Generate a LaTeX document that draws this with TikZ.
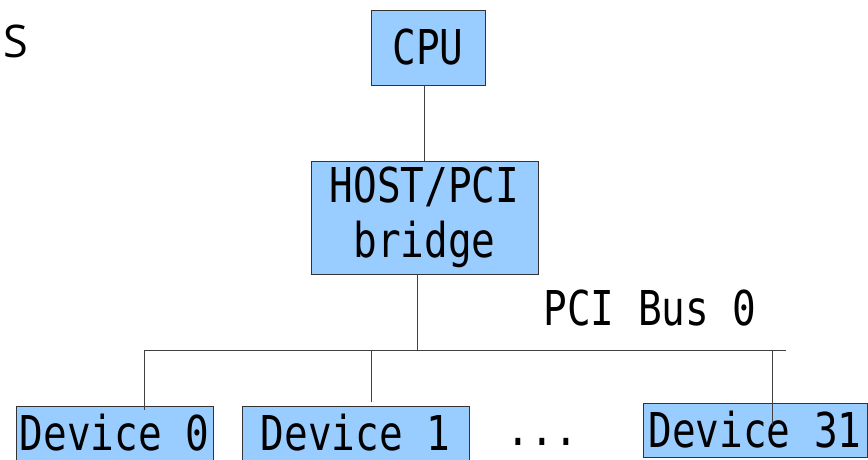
\documentclass[tikz,border=0pt]{standalone}
\usepackage{fontspec}
\newfontfamily\pcimono[FakeStretch=0.82]{DejaVu Sans Mono}
\newfontfamily\pcisans{Open Sans}
\begin{document}
\begin{tikzpicture}[x=1pt,y=-1pt,
  hwbox/.style={draw=black!80,fill=pciblue,line width=0.9pt,inner sep=0pt,
    font=\pcimono\fontsize{48}{55}\selectfont,align=center},
  wire/.style={draw=black!75,line width=0.9pt},
  lbl/.style={font=\pcimono\fontsize{48}{55}\selectfont,inner sep=0pt,anchor=base}]
\definecolor{pciblue}{HTML}{99CCFF}
\useasboundingbox[fill=white] (0,0) rectangle (868,459);
% boxes
\node[hwbox,minimum width=114pt,minimum height=75pt] (cpu) at (428,47.5) {CPU};
\node[hwbox,minimum width=227pt,minimum height=113pt] (bridge) at (424.5,217.5) {HOST/PCI\\bridge};
\node[hwbox,minimum width=197pt,minimum height=54pt,text depth=2pt] (dev0) at (114.5,433) {Device 0};
\node[hwbox,minimum width=227pt,minimum height=54pt,text depth=2pt] (dev1) at (355.5,433) {Device 1};
\node[hwbox,minimum width=224pt,minimum height=54pt,text depth=2pt] (dev31) at (755,430) {Device 31};
% labels
\node[lbl] (bus) at (650,325) {PCI Bus 0};
\node[lbl] (dots) at (542.5,445) {...};
\node[font=\pcisans\fontsize{45}{50}\selectfont,inner sep=0pt,anchor=base west] (s) at (3,57) {S};
% bus coordinates
\coordinate (busL) at (144,350);
\coordinate (busR) at (786,350);
\coordinate (tapB) at (417,350);
\coordinate (tap1) at (371,350);
\coordinate (tap31) at (772,350);
\coordinate (end0) at (144,410);
\coordinate (end1) at (371,402);
\coordinate (end31) at (772,425);
% connectors
\draw[wire] (cpu.south -| bridge.north) -- (bridge.north);
\draw[wire] (bridge.south -| tapB) -- (tapB);
\draw[wire] (end0) -- (busL) -- (busR);
\draw[wire] (tap1) -- (end1);
\draw[wire] (tap31) -- (end31);
\end{tikzpicture}
\end{document}
